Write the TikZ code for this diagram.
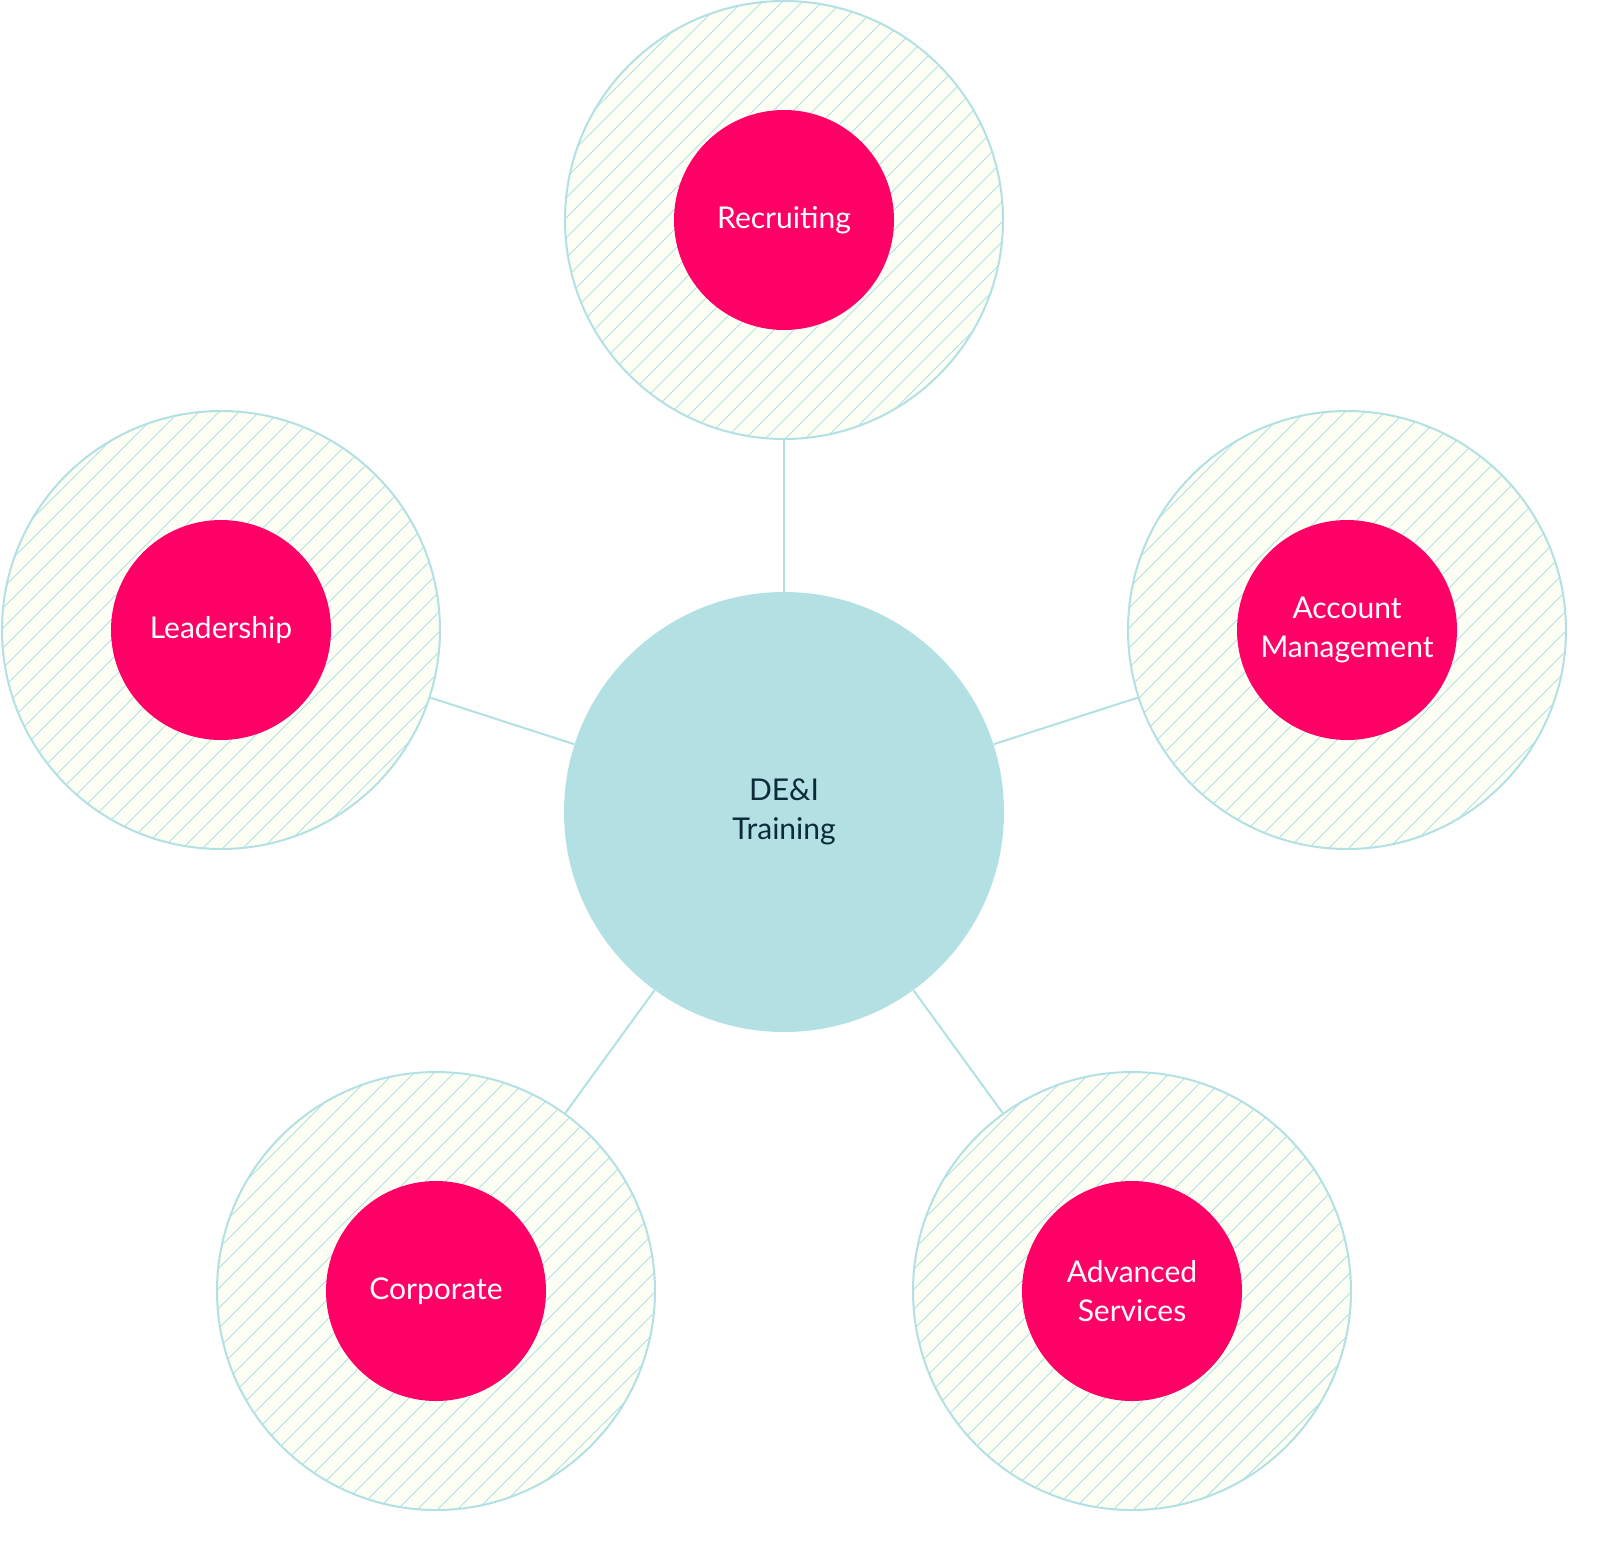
\documentclass[tikz,border=0pt]{standalone}
\usepackage{fontspec}
\setmainfont{Lato}
\definecolor{teal}{HTML}{B3E1E3}
\definecolor{cream}{HTML}{FDFEF4}
\definecolor{pink}{HTML}{FF0066}
\definecolor{ink}{HTML}{0B2A3A}
\begin{document}
\begin{tikzpicture}[x=0.5pt,y=-0.5pt,
    outer_style/.style={circle,draw=teal,line width=1pt,minimum size=219pt,inner sep=0pt},
    inner_style/.style={circle,fill=pink,text=white,minimum size=110pt,inner sep=0pt,align=center,font=\fontsize{15}{19.5}\selectfont},
    hub_style/.style={circle,fill=teal,text=ink,minimum size=220pt,inner sep=0pt,align=center,font=\fontsize{15}{19.5}\selectfont},
    hatch_style/.style={draw=teal,line width=0.5pt,overlay},
    edge_style/.style={draw=teal,line width=1pt}]
  \useasboundingbox (0,0) rectangle (1600,1543);
  % hatched rings
  \foreach \name/\x/\y in {o1/784/220,o2/221/630,o3/1347/630,o4/436/1291,o5/1132/1291}{
    \fill[cream] (\x,\y) circle (219);
    \begin{scope}[shift={(\x,\y)}]
      \clip (0,0) circle (219);
      \foreach \d in {-440,-420,...,440}
        \draw[hatch_style] (\d-230,230) -- (\d+230,-230);
    \end{scope}
    \node[outer_style] (\name) at (\x,\y) {};
  }
  \node[hub_style] (hub) at (784,812) {DE\&I\\Training};
  \node[inner_style] (v1) at (o1) {Recruiting};
  \node[inner_style] (v2) at (o2) {Leadership};
  \node[inner_style] (v3) at (o3) {Account\\Management};
  \node[inner_style] (v4) at (o4) {Corporate};
  \node[inner_style] (v5) at (o5) {Advanced\\Services};
  \draw[edge_style] (hub) -- (o1);
  \draw[edge_style] (hub) -- (o2);
  \draw[edge_style] (hub) -- (o3);
  \draw[edge_style] (hub) -- (o4);
  \draw[edge_style] (hub) -- (o5);
\end{tikzpicture}
\end{document}
